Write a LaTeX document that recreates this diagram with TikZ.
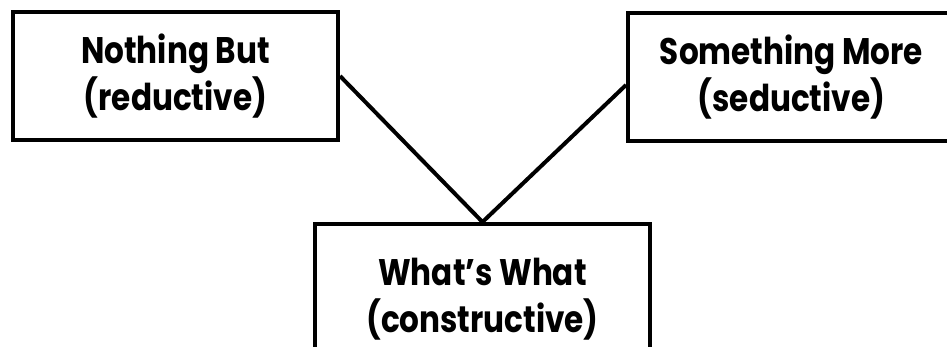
\documentclass[tikz,border=0pt]{standalone}
\usepackage{fontspec}
\setmainfont{Poppins}[FakeStretch=0.84]
\begin{document}
\begin{tikzpicture}[x=1pt, y=-1pt, every node/.style={font=\fontsize{37}{47}\selectfont\bfseries},
  term/.style={draw,line width=4pt,align=center,inner sep=0pt}]
\clip (0,0) rectangle (947,346);
\node[term,minimum width=325pt,minimum height=128pt] (nothing) at (175.5,76) {Nothing But\\(reductive)};
\node[term,minimum width=327pt,minimum height=128pt] (something) at (791.5,77) {Something More\\(seductive)};
\node[term,minimum width=335pt,minimum height=150pt] (whats) at (482.5,299) {What's What\\(constructive)};
% connectors
\draw[line width=4pt] (nothing.east) -- (whats.north) -- ([yshift=-8pt]something.west);
\end{tikzpicture}
\end{document}
